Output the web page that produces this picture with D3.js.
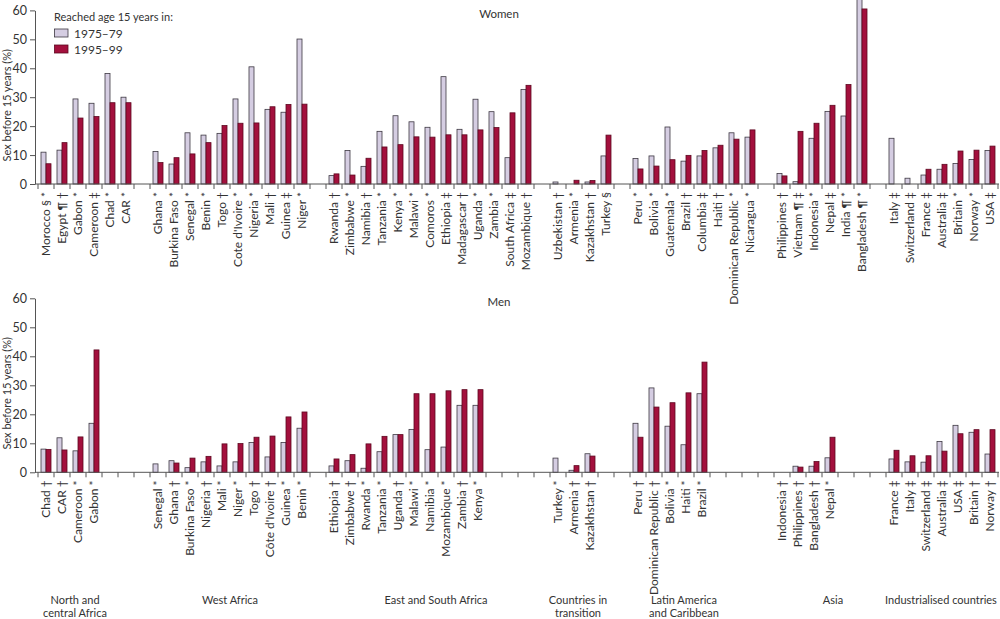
<!DOCTYPE html>
<html>
<head>
<meta charset="utf-8">
<script src="https://cdn.jsdelivr.net/npm/d3@7/dist/d3.min.js"></script>
<style>
  body { margin: 0; background: #fff; }
  svg { font-family: Lato, "Open Sans", sans-serif; }
</style>
</head>
<body>
<div id="app"></div>
<script>
// ---- data ----
const series = ['1975–79', '1995–99'];

const groupNames = [
  ['North and', 'central Africa'],
  ['West Africa'],
  ['East and South Africa'],
  ['Countries in', 'transition'],
  ['Latin America', 'and Caribbean'],
  ['Asia'],
  ['Industrialised countries']
];

const womenCountries = [
  ['Morocco § *', 'Egypt ¶ †', 'Gabon *', 'Cameroon ‡', 'Chad *', 'CAR *'],
  ['Ghana *', 'Burkina Faso *', 'Senegal *', 'Benin *', 'Togo †', "Cote d'Ivoire *", 'Nigeria *', 'Mali †', 'Guinea ‡', 'Niger *'],
  ['Rwanda †', 'Zimbabwe *', 'Namibia †', 'Tanzania *', 'Kenya *', 'Malawi *', 'Comoros *', 'Ethiopia ‡', 'Madagascar †', 'Uganda *', 'Zambia *', 'South Africa ‡', 'Mozambique †'],
  ['Uzbekistan †', 'Armenia *', 'Kazakhstan †', 'Turkey §'],
  ['Peru *', 'Bolivia *', 'Guatemala *', 'Brazil †', 'Columbia ‡', 'Haiti †', 'Dominican Republic *', 'Nicaragua *'],
  ['Philippines †', 'Vietnam ¶ ‡', 'Indonesia *', 'Nepal ‡', 'India ¶ *', 'Bangladesh ¶ *'],
  ['Italy ‡', 'Switzerland ‡', 'France ‡', 'Australia ‡', 'Britain *', 'Norway *', 'USA ‡']
];
const women1975 = [
  [11, 11.7, 29.4, 27.9, 38.2, 30],
  [11.2, 6.9, 17.7, 16.9, 17.5, 29.4, 40.5, 25.8, 24.8, 50.1],
  [2.9, 11.6, 6.1, 18.2, 23.6, 21.5, 19.6, 37.1, 18.9, 29.3, 25, 9.1, 32.7],
  [0.7, null, 0.7, 9.7],
  [8.8, 9.7, 19.7, 7.9, 9.7, 12.5, 17.7, 16.2],
  [3.6, 0.8, 15.8, 25.1, 23.5, 63.8],
  [15.8, 2, 3.1, 5.1, 7.1, 8.5, 11.6]
];
const women1995 = [
  [7, 14.3, 22.8, 23.3, 28.1, 28.1],
  [7.4, 9.1, 10.4, 14.3, 20.2, 21, 21.1, 26.7, 27.5, 27.6],
  [3.5, 3.1, 8.9, 12.8, 13.6, 16.3, 16.2, 17, 17, 18.7, 19.5, 24.6, 34.1],
  [null, 1.3, 1.2, 16.9],
  [5.2, 6.2, 8.4, 9.9, 11.6, 13.4, 15.5, 18.7],
  [2.8, 18.2, 21, 27.2, 34.4, 60.5],
  [null, null, 5.1, 6.8, 11.4, 11.7, 13.1]
];

const menCountries = [
  ['Chad †', 'CAR †', 'Cameroon *', 'Gabon *'],
  ['Senegal *', 'Ghana †', 'Burkina Faso *', 'Nigeria †', 'Mali *', 'Niger *', 'Togo †', "Côte d'Ivoire †", 'Guinea *', 'Benin *'],
  ['Ethiopia †', 'Zimbabwe †', 'Rwanda *', 'Tanzania *', 'Uganda †', 'Malawi *', 'Namibia *', 'Mozambique *', 'Zambia †', 'Kenya *'],
  ['Turkey *', 'Armenia †', 'Kazakhstan †'],
  ['Peru †', 'Dominican Republic †', 'Bolivia *', 'Haiti *', 'Brazil *'],
  ['Indonesia †', 'Philippines †', 'Bangladesh †', 'Nepal *'],
  ['France ‡', 'Italy ‡', 'Switzerland ‡', 'Australia ‡', 'USA ‡', 'Britain †', 'Norway †']
];
const men1975 = [
  [8, 11.9, 7.4, 16.9],
  [2.9, 4, 1.6, 3.6, 2.2, 3.6, 10.3, 5.3, 10.3, 15.2],
  [2.2, 4, 1.4, 7.1, 13, 14.8, 7.8, 8.7, 23.1, 23.1],
  [4.9, 0.7, 6.4],
  [16.9, 29.1, 15.9, 9.5, 27.1],
  [null, 2.1, 2.1, 5],
  [4.6, 3.6, 3.5, 10.6, 16.2, 13.8, 6.3]
];
const men1995 = [
  [7.9, 7.7, 12.2, 42.2],
  [null, 3.2, 4.9, 5.5, 9.8, 9.9, 12.1, 12.5, 19.1, 20.8],
  [4.6, 6.1, 9.8, 12.4, 13, 27.1, 27.1, 28.1, 28.5, 28.5],
  [null, 2.3, 5.6],
  [12.1, 22.5, 24, 27.4, 38],
  [null, 1.8, 3.7, 12.1],
  [7.6, 5.7, 5.7, 7.3, 13.3, 14.7, 14.7]
];

const yTicks = [0, 10, 20, 30, 40, 50, 60];

// ---- layout ----
const width = 1000;
const height = 619;
const axisX = 35;
const colors = { fill: ['#d5cde2', '#a3103d'], stroke: ['#3d3842', '#5e0820'] };
const textColor = '#333';
const groupLabelNudge = [-11, 0, 6, -4, -10, 11, -1];

const panels = [
  { title: 'Women', names: womenCountries, values: [women1975, women1995], top: 10.4, base: 184 },
  { title: 'Men', names: menCountries, values: [men1975, men1995], top: 298.3, base: 472.3 }
];

// slots per group: widest panel plus one spacer (none after the last group)
const groupSlots = groupNames.map((_, g) =>
  d3.max([womenCountries[g].length, menCountries[g].length]) + (g < groupNames.length - 1 ? 1 : 0));
const groupStart = groupSlots.map((_, g) => d3.sum(groupSlots.slice(0, g)));
const nSlots = d3.sum(groupSlots);

const x = d3.scaleBand().domain(d3.range(nSlots)).range([38, 998]).padding(0);
const xs = d3.scaleBand().domain(series).range([0, x.bandwidth()]).paddingInner(0).paddingOuter(0.6);

const svg = d3.select('#app').append('svg')
  .attr('width', width)
  .attr('height', height);

panels.forEach(p => {
  const y = d3.scaleLinear().domain([0, 60]).range([p.base, p.top]);
  const g = svg.append('g');

  // y axis
  const yAxis = g.append('g')
    .attr('transform', `translate(${axisX},0)`)
    .call(d3.axisLeft(y).tickValues(yTicks).tickSize(5).tickSizeOuter(0).tickPadding(3));
  yAxis.select('.domain').attr('stroke', '#555');
  yAxis.selectAll('.tick line').attr('stroke', '#555');
  yAxis.selectAll('.tick text')
    .attr('fill', textColor)
    .style('font-size', '12.5px')
    .style('font-family', 'Lato, sans-serif');

  g.append('text')
    .attr('transform', `translate(11,${(p.base + p.top) / 2 + 8}) rotate(-90)`)
    .attr('text-anchor', 'middle')
    .attr('fill', textColor)
    .style('font-size', '11px')
    .text('Sex before 15 years (%)');

  g.append('text')
    .attr('x', 499)
    .attr('y', p.top + 8)
    .attr('text-anchor', 'middle')
    .attr('fill', textColor)
    .style('font-size', '11.5px')
    .text(p.title);

  // flatten to slot-indexed rows
  const rows = [];
  p.names.forEach((list, gi) => list.forEach((name, j) => {
    rows.push({
      slot: groupStart[gi] + j,
      name,
      vals: series.map((s, si) => ({ s, si, v: p.values[si][gi][j] }))
    });
  }));

  const cat = g.selectAll('.cat').data(rows).enter().append('g')
    .attr('transform', d => `translate(${x(d.slot)},0)`);

  cat.selectAll('rect')
    .data(d => d.vals.filter(v => v.v != null))
    .enter().append('rect')
    .attr('x', d => xs(d.s))
    .attr('width', xs.bandwidth())
    .attr('y', d => y(d.v))
    .attr('height', d => p.base - y(d.v))
    .attr('fill', d => colors.fill[d.si])
    .attr('stroke', d => colors.stroke[d.si])
    .attr('stroke-width', 0.8);

  // baseline + slot separators
  g.append('line')
    .attr('x1', axisX).attr('x2', 999)
    .attr('y1', p.base).attr('y2', p.base)
    .attr('stroke', '#555');

  g.selectAll('.sep').data(d3.range(nSlots + 1)).enter().append('line')
    .attr('x1', i => x.range()[0] + i * x.step())
    .attr('x2', i => x.range()[0] + i * x.step())
    .attr('y1', p.base)
    .attr('y2', p.base + 5)
    .attr('stroke', '#555');

  cat.append('text')
    .attr('transform', `translate(${x.bandwidth() / 2},${p.base + 8}) rotate(-90)`)
    .attr('text-anchor', 'end')
    .attr('dy', '0.35em')
    .attr('fill', textColor)
    .style('font-size', '12px')
    .text(d => d.name);
});

// legend
const legend = svg.append('g').attr('fill', textColor).style('font-size', '11px');
legend.append('text').attr('x', 54).attr('y', 21).text('Reached age 15 years in:');
series.forEach((s, i) => {
  legend.append('rect')
    .attr('x', 54.5).attr('y', 29 + i * 16)
    .attr('width', 13.5).attr('height', 8)
    .attr('fill', colors.fill[i])
    .attr('stroke', colors.stroke[i])
    .attr('stroke-width', 0.8);
  legend.append('text').attr('x', 74).attr('y', 37.5 + i * 16).style('font-size', '12px').text(s);
});

// group labels
const gl = svg.append('g').attr('fill', textColor).style('font-size', '11px');
groupNames.forEach((lines, gi) => {
  const cx = x(groupStart[gi]) + womenCountries[gi].length * x.step() / 2 + groupLabelNudge[gi];
  lines.forEach((t, k) => {
    gl.append('text')
      .attr('x', cx)
      .attr('y', 604 + k * 12.5)
      .attr('text-anchor', 'middle')
      .text(t);
  });
});
</script>
</body>
</html>
